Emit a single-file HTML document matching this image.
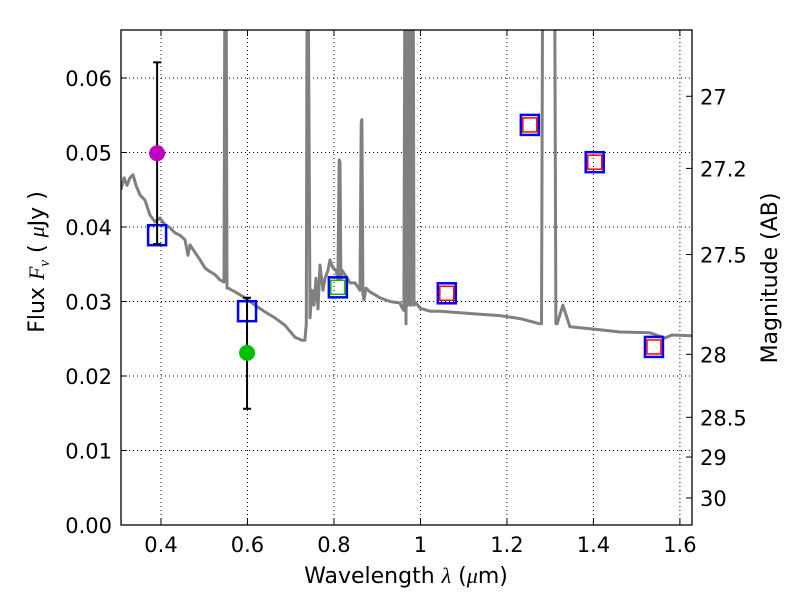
<!DOCTYPE html>
<html><head><meta charset="utf-8"><style>
body{margin:0;background:#fff;}
svg text{font-family:"DejaVu Sans","Liberation Sans",sans-serif;}
</style></head><body>
<svg id="chart" width="800" height="600" xmlns="http://www.w3.org/2000/svg"></svg>
<script>
const specLam=[0.3075,0.3147,0.3214,0.3283,0.3353,0.3422,0.3514,0.3630,0.3746,0.3861,0.3977,0.4092,0.4208,0.4324,0.4439,0.4555,0.4624,0.4671,0.4786,0.4902,0.5017,0.5133,0.5249,0.5364,0.5457,0.5480,0.5503,0.5526,0.5549,0.5711,0.5942,0.6173,0.6405,0.6636,0.6867,0.7098,0.7260,0.7329,0.7360,0.7380,0.7399,0.7445,0.7491,0.7538,0.7584,0.7630,0.7676,0.7746,0.7792,0.7861,0.7908,0.7977,0.8046,0.8092,0.8120,0.8139,0.8160,0.8185,0.8254,0.8370,0.8486,0.8601,0.8630,0.8647,0.8670,0.8694,0.8740,0.8832,0.9064,0.9295,0.9526,0.9580,0.9618,0.9642,0.9665,0.9688,0.9710,0.9757,0.9780,0.9800,0.9830,0.9850,0.9896,0.9940,0.9988,1.022,1.045,1.0913,1.1376,1.1838,1.23,1.2763,1.2800,1.2830,1.3100,1.3133,1.3160,1.3295,1.3457,1.415,1.4613,1.5306,1.5653,1.5815,1.6277];
const specFlux=[0.0450,0.0466,0.0456,0.0466,0.0470,0.0456,0.0443,0.0436,0.0416,0.0407,0.0412,0.0403,0.0399,0.0392,0.0389,0.0383,0.0362,0.0376,0.0366,0.0356,0.0345,0.0340,0.0336,0.0329,0.0326,0.0800,0.0800,0.0318,0.0318,0.0313,0.0305,0.0295,0.0286,0.0278,0.0268,0.0252,0.0248,0.0248,0.0270,0.0800,0.0800,0.0278,0.0315,0.0295,0.0331,0.0290,0.0349,0.0315,0.0331,0.0342,0.0356,0.0345,0.0342,0.0330,0.0490,0.0487,0.0330,0.0342,0.0336,0.0325,0.0325,0.0315,0.0540,0.0544,0.0310,0.0302,0.0318,0.0313,0.0305,0.0300,0.0298,0.0291,0.0288,0.0800,0.0270,0.0800,0.0295,0.0800,0.0295,0.0800,0.0800,0.0295,0.0298,0.0295,0.0291,0.0287,0.0287,0.0285,0.0283,0.0281,0.0277,0.0270,0.0270,0.0800,0.0800,0.0270,0.0270,0.0295,0.0266,0.0262,0.0259,0.0258,0.0251,0.0255,0.0254];
const obsLam=[0.391,0.599];
const obsFlux=[0.0499,0.0231];
const obsLo=[0.0377,0.0156];
const obsHi=[0.0621,0.0305];
const obsColor=["#bf00bf","#00bf00"];
const modLam=[0.391,0.599,0.809,1.061,1.253,1.403,1.540];
const modFlux=[0.0389,0.0287,0.0319,0.0311,0.0537,0.0487,0.0239];
const modInner=["none","none","#00bf00","red","red","red","red"];
const xTicks=[0.4,0.6,0.8,1.0,1.2,1.4,1.6];
const xTickLabels=["0.4","0.6","0.8","1","1.2","1.4","1.6"];
const yTicks=[0,0.01,0.02,0.03,0.04,0.05,0.06];
const yTickLabels=["0.00","0.01","0.02","0.03","0.04","0.05","0.06"];
const magTicks=[27,27.2,27.5,28,28.5,29,30];
const magTickLabels=["27","27.2","27.5","28","28.5","29","30"];

const L=121,R=692,T=30,B=525;
const x0=0.3075,x1=1.628,y0=0,y1=0.06644;
const X=v=>L+(v-x0)/(x1-x0)*(R-L);
const Y=v=>B-(v-y0)/(y1-y0)*(B-T);
const magToFlux=m=>Math.pow(10,(23.9-m)/2.5);
const svg=document.getElementById('chart');
const NS="http://www.w3.org/2000/svg";
function mk(tag,attrs,parent){const e=document.createElementNS(NS,tag);for(const k in attrs)e.setAttribute(k,attrs[k]);(parent||svg).appendChild(e);return e;}

const defs=mk('defs',{});
const cp=mk('clipPath',{id:'clip'},defs);
mk('rect',{x:L,y:T,width:R-L,height:B-T},cp);

xTicks.forEach(v=>{
  const g=mk('line',{x1:X(v),x2:X(v),y1:T,y2:B,stroke:'#000','stroke-dasharray':'1,3','stroke-width':1});
  
  
});
yTicks.forEach(v=>{
  const g=mk('line',{x1:L,x2:R,y1:Y(v),y2:Y(v),stroke:'#000','stroke-dasharray':'1,3','stroke-width':1});
  
  
});

const pts=specLam.map((l,i)=>X(l).toFixed(1)+','+Y(specFlux[i]).toFixed(1)).join(' ');
const sp=mk('polyline',{points:pts,fill:'none',stroke:'#808080','stroke-width':3,'clip-path':'url(#clip)','stroke-linejoin':'round'});



modLam.forEach((l,i)=>{
  const cx=X(l),cy=Y(modFlux[i]);
  const s=mk('rect',{x:cx-9,y:cy-10,width:18,height:20,fill:'none',stroke:'#0000ff','stroke-width':2.5});
  
  
  if(modInner[i]!=='none'){
    const r=mk('rect',{x:cx-7,y:cy-7,width:14,height:14,fill:'none',stroke:modInner[i],'stroke-width':1.5});
    
    
  }
});

obsLam.forEach((l,i)=>{
  const cx=X(l);
  const e=mk('line',{x1:cx,x2:cx,y1:Y(obsLo[i]),y2:Y(obsHi[i]),stroke:'#000','stroke-width':2});
  
  
  [obsLo[i],obsHi[i]].forEach(v=>{
    const c=mk('line',{x1:cx-4,x2:cx+4,y1:Y(v),y2:Y(v),stroke:'#000','stroke-width':2});
    
    
  });
  const d=mk('circle',{cx:cx,cy:Y(obsFlux[i]),r:8,fill:obsColor[i]});
  
  
});

const fr=mk('rect',{x:L,y:T,width:R-L,height:B-T,fill:'none',stroke:'#000','stroke-width':1.3});



xTicks.forEach((v,i)=>{
  mk('line',{x1:X(v),x2:X(v),y1:B,y2:B-6,stroke:'#000'});
  mk('line',{x1:X(v),x2:X(v),y1:T,y2:T+6,stroke:'#000'});
  const t=mk('text',{x:X(v),y:B+27,'font-size':21,'text-anchor':'middle'});
  t.textContent=xTickLabels[i];
  
  
});
yTicks.forEach((v,i)=>{
  mk('line',{x1:L,x2:L+6,y1:Y(v),y2:Y(v),stroke:'#000'});
  const t=mk('text',{x:L-9,y:Y(v)+8,'font-size':21,'text-anchor':'end'});
  t.textContent=yTickLabels[i];
  
  
});
magTicks.forEach((m,i)=>{
  const y=Y(magToFlux(m));
  mk('line',{x1:R,x2:R-6,y1:y,y2:y,stroke:'#000'});
  const t=mk('text',{x:R+8,y:y+8,'font-size':21});
  t.textContent=magTickLabels[i];
  
  
});

let t=mk('text',{x:406,y:583,'font-size':22,'text-anchor':'middle'});
t.innerHTML='Wavelength  <tspan font-family="Liberation Serif" font-style="italic">λ</tspan> (<tspan font-family="Liberation Serif" font-style="italic">μ</tspan>m)';


t=mk('text',{x:0,y:0,'font-size':22,'text-anchor':'middle',transform:'translate(44,262) rotate(-90)'});
t.innerHTML='Flux  <tspan font-family="Liberation Serif" font-style="italic">F</tspan><tspan font-family="Liberation Serif" font-style="italic" font-size="15" dy="5">ν</tspan><tspan dy="-5">  (  </tspan><tspan font-family="Liberation Serif" font-style="italic">μ</tspan>Jy )';


t=mk('text',{x:0,y:0,'font-size':22,'text-anchor':'middle',transform:'translate(777,278) rotate(-90)'});
t.textContent='Magnitude (AB)';


</script>
</body></html>
